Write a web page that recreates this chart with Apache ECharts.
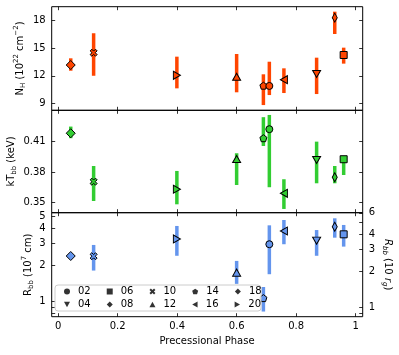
<!DOCTYPE html>
<html><head><meta charset="utf-8">
<script src="https://cdn.jsdelivr.net/npm/echarts@6/dist/echarts.min.js"></script>
<style>html,body{margin:0;padding:0;background:#fff}#c{width:399px;height:355px}</style>
</head><body><div id="c"></div>
<script>
// ---- data ----
const obsIds = ['08','10','20','12','14','02','16','04','18','06'];
const phase  = [0.042,0.119,0.399,0.600,0.690,0.710,0.759,0.869,0.930,0.960];
const nh     = [13.17,14.51,12.05,11.90,10.92,10.89,11.57,12.19,18.33,14.26];
const nhLo   = [12.55,12.00,10.63,10.20, 8.81, 9.90,10.12,10.01,16.55,13.32];
const nhHi   = [13.90,16.63,14.08,14.37,12.16,13.53,12.81,13.97,18.98,15.06];
const kt     = [0.4183,0.3704,0.3629,0.3929,0.4134,0.4223,0.3589,0.3919,0.3748,0.3926];
const ktLo   = [0.4134,0.3513,0.3480,0.3671,0.4057,0.3649,0.3434,0.3688,0.3688,0.3770];
const ktHi   = [0.4249,0.3859,0.3810,0.3985,0.4342,0.4364,0.3728,0.4100,0.3859,0.3935];
const rbb    = [2.37,2.36,3.27,1.73,1.07,2.96,3.80,3.17,4.12,3.57];
const rbbLo  = [2.32,1.80,2.38,1.40,0.83,1.68,2.96,2.38,3.35,2.83];
const rbbHi  = [2.42,2.92,4.18,2.16,1.32,4.23,4.68,3.87,4.83,4.26];
const xTicks = [0,0.2,0.4,0.6,0.8,1];
const nhTicks = [9,12,15,18];
const ktTicks = [0.35,0.38,0.41];
const rbbTicks = [1,2,3,4,5];
const rbbMinor = [0.8,0.9];
const rgTicks = [1,2,3,4,6];
const rgTickMarks = [0.9,1,2,3,4,5,6];
const rgFactor = 1.12; // R_bb in 10 r_g per 10^7 cm
const legendRow1 = ['02','06','10','14','18'];
const legendRow2 = ['04','08','12','16','20'];
const xTitle = 'Precessional Phase';

// ---- styles ----
const FONT = 'DejaVu Sans';
const C1 = '#ff4500', C2 = '#32cd32', C3 = '#6495ed';
const SYM = {
  '02': {s:'circle', size:[7,7]},
  '04': {s:'path://M0,0 L2,0 L1,1.8 Z', size:[8,7]},
  '06': {s:'rect', size:[7,7]},
  '08': {s:'diamond', size:[9,9]},
  '10': {s:'path://M0,1.4 L1.4,0 L3,1.6 L4.6,0 L6,1.4 L4.4,3 L6,4.6 L4.6,6 L3,4.4 L1.4,6 L0,4.6 L1.6,3 Z', size:[7,7]},
  '12': {s:'path://M0,1.8 L2,1.8 L1,0 Z', size:[8,7]},
  '14': {s:'path://M0,-100 L95,-31 L59,81 L-59,81 L-95,-31 Z', size:[7,7]},
  '16': {s:'path://M1.8,0 L1.8,2 L0,1 Z', size:[7,8]},
  '18': {s:'diamond', size:[5,9]},
  '20': {s:'path://M0,0 L1.8,1 L0,2 Z', size:[7,8]}
};
const log10 = Math.log10;

const L = 51.7, R = 399 - 362.7;
const grids = [
  {left:L, right:R, top:6.7, height:103.6, show:true, borderColor:'#000', borderWidth:1},
  {left:L, right:R, top:110.3, height:102.4, show:true, borderColor:'#000', borderWidth:1},
  {left:L, right:R, top:212.7, height:104, show:true, borderColor:'#000', borderWidth:1}
];
const tickStyle = {show:true, inside:true, length:3.5, lineStyle:{color:'#000', width:0.8}};
const xAxes = [];
for (let g = 0; g < 3; g++) {
  ['bottom','top'].forEach(pos => {
    const showLab = (g === 2 && pos === 'bottom');
    xAxes.push({
      type:'value', gridIndex:g, position:pos, min:-0.022, max:1.024,
      axisLine:{show:false, onZero:false}, splitLine:{show:false},
      axisTick:Object.assign({customValues:xTicks}, tickStyle),
      axisLabel:{show:showLab, customValues:xTicks, margin:5, color:'#000', fontSize:10, fontFamily:FONT,
        formatter:v => (v === 0 ? '0' : (v === 1 ? '1' : v.toFixed(1)))}
    });
  });
}
const richBase = {
  n:{fontSize:10, fontFamily:FONT, fill:'#000', color:'#000', lineHeight:14},
  i:{fontSize:10, fontFamily:FONT, fill:'#000', color:'#000', lineHeight:14, fontStyle:'italic'},
  sub:{fontSize:7, fontFamily:FONT, fill:'#000', color:'#000', lineHeight:8, verticalAlign:'bottom'},
  isub:{fontSize:7, fontFamily:FONT, fill:'#000', color:'#000', lineHeight:8, verticalAlign:'bottom', fontStyle:'italic'},
  sup:{fontSize:7, fontFamily:FONT, fill:'#000', color:'#000', lineHeight:8, verticalAlign:'top'}
};
function yAx(grid, pos, min, max, ticks, labels, fmt) {
  return {
    type:'value', gridIndex:grid, position:pos, min:min, max:max,
    axisLine:{show:false, onZero:false}, splitLine:{show:false},
    axisTick:Object.assign({customValues:ticks}, tickStyle),
    axisLabel:{show:!!labels, customValues:labels || ticks, margin:6, color:'#000', fontSize:10, fontFamily:FONT, formatter:fmt}
  };
}
const lmin = log10(0.753), lmax = log10(5.37);
const yAxes = [
  yAx(0,'left',8.24,19.52,nhTicks,nhTicks,v => String(v)),
  yAx(0,'right',8.24,19.52,nhTicks,null,null),
  yAx(1,'left',0.3397,0.441,ktTicks,ktTicks,v => v.toFixed(2)),
  yAx(1,'right',0.3397,0.441,ktTicks,null,null),
  yAx(2,'left',lmin,lmax,rbbTicks.concat(rbbMinor).map(log10),rbbTicks.map(log10),
      v => String(Math.round(Math.pow(10, v)))),
  yAx(2,'right',lmin,lmax,rgTickMarks.map(v => log10(v / rgFactor)),rgTicks.map(v => log10(v / rgFactor)),
      v => String(Math.round(Math.pow(10, v) * rgFactor)))
];

function errSeries(xi, yi, lo, hi, color) {
  return {
    type:'custom', xAxisIndex:xi, yAxisIndex:yi, z:2,
    data: phase.map((p, k) => [p, lo[k], hi[k]]),
    encode:{x:0, y:[1,2]},
    renderItem:(params, api) => {
      const a = api.coord([api.value(0), api.value(1)]);
      const b = api.coord([api.value(0), api.value(2)]);
      return {type:'line', shape:{x1:a[0], y1:a[1], x2:b[0], y2:b[1]}, style:{stroke:color, lineWidth:3.5}};
    },
    silent:true
  };
}
function ptSeries(xi, yi, vals, color) {
  return {
    type:'scatter', xAxisIndex:xi, yAxisIndex:yi, z:3,
    data: phase.map((p, k) => ({value:[p, vals[k]], symbol:SYM[obsIds[k]].s, symbolSize:SYM[obsIds[k]].size})),
    itemStyle:{color:color, borderColor:'#000', borderWidth:1, opacity:1},
    silent:true
  };
}
const series = [
  errSeries(0,0,nhLo,nhHi,C1), ptSeries(0,0,nh,C1),
  errSeries(2,2,ktLo,ktHi,C2), ptSeries(2,2,kt,C2),
  errSeries(4,4,rbbLo.map(log10),rbbHi.map(log10),C3), ptSeries(4,4,rbb.map(log10),C3)
];
legendRow1.concat(legendRow2).forEach(id => {
  series.push({type:'scatter', name:id, xAxisIndex:4, yAxisIndex:4, data:[], itemStyle:{color:'#000'}});
});
function legendFor(row, top) {
  return {
    left:64, top:top, padding:0, itemGap:16, itemWidth:6, itemHeight:6, z:50,
    selectedMode:false, orient:'horizontal',
    textStyle:{fontSize:10, fontFamily:FONT, color:'#000', padding:[0,0,0,3]},
    data: row.map(id => ({name:id, icon:SYM[id].s}))
  };
}
function title(x, y, rot, text) {
  return {type:'text', x:x, y:y, rotation:rot, z:30,
    style:{text:text, rich:richBase, align:'center', verticalAlign:'middle',
      fontSize:10, fontFamily:FONT, fill:'#000'}};
}
const chart = echarts.init(document.getElementById('c'), null, {renderer:'canvas'});
chart.setOption({
  animation:false,
  backgroundColor:'#fff',
  grid:grids, xAxis:xAxes, yAxis:yAxes, series:series,
  legend:[legendFor(legendRow1, 286.5), legendFor(legendRow2, 299.5)],
  graphic:[
    {type:'rect', z:40, shape:{x:55, y:285, width:206, height:26, r:3},
      style:{fill:'rgba(255,255,255,0.85)', stroke:'#cccccc', lineWidth:1}},
    title(20, 58.5, Math.PI/2, '{n|N}{sub|H}{n| (10}{sup|22}{n| cm}{sup|−2}{n|)}'),
    title(11, 161.5, Math.PI/2, '{n|kT}{sub|bb}{n| (keV)}'),
    title(28, 264.7, Math.PI/2, '{n|R}{sub|bb}{n| (10}{sup|7}{n| cm)}'),
    title(388, 264.7, -Math.PI/2, '{i|R}{isub|bb}{n| (10 }{i|r}{isub|g}{n|)}'),
    {type:'text', x:207, y:341.7, z:30, style:{text:xTitle, align:'center', verticalAlign:'middle',
      fontSize:10, fontFamily:FONT, fill:'#000'}}
  ]
});
</script></body></html>
